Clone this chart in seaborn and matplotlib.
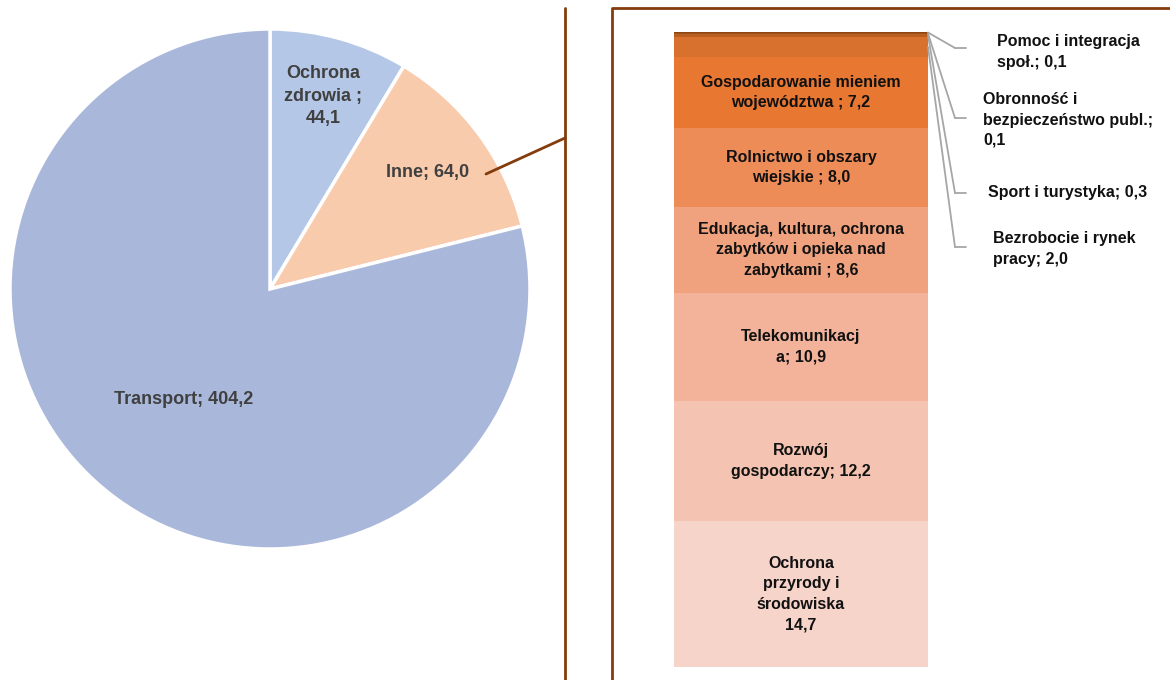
import numpy as np
import matplotlib
matplotlib.use("Agg")
import matplotlib.pyplot as plt
import seaborn as sns
from matplotlib.lines import Line2D

sns.set_theme(style="white")
plt.rcParams['font.family'] = ['Liberation Sans', 'DejaVu Sans']

# pie data (clockwise from the top)
pie_labels = ["Ochrona\nzdrowia ;\n44,1", "Inne; 64,0", "Transport; 404,2"]
pie_values = [44.1, 64.0, 404.2]
pie_colors = ["#B4C7E7", "#F8CBAD", "#A9B7DA"]
pie_label_r = [0.77, 0.755, 0.54]

# breakdown of "Inne", from bottom to top
bar_labels = ["Ochrona\nprzyrody i\nśrodowiska\n14,7",
              "Rozwój\ngospodarczy; 12,2",
              "Telekomunikacj\na; 10,9",
              "Edukacja, kultura, ochrona\nzabytków i opieka nad\nzabytkami ; 8,6",
              "Rolnictwo i obszary\nwiejskie ; 8,0",
              "Gospodarowanie mieniem\nwojewództwa ; 7,2",
              "Bezrobocie i rynek\npracy; 2,0",
              "Sport i turystyka; 0,3",
              "Obronność i\nbezpieczeństwo publ.;\n0,1",
              "Pomoc i integracja\nspoł.; 0,1"]
bar_values = [14.7, 12.2, 10.9, 8.6, 8.0, 7.2, 2.0, 0.3, 0.1, 0.1]
bar_colors = ["#F6D4C9", "#F4C3B1", "#F2B39A", "#F0A27F", "#EE8C58",
              "#E87732", "#D9712E", "#B85E20", "#A05018", "#8B4513"]
n_inside = 6

W, H = 1170, 680
fig = plt.figure(figsize=(W / 100, H / 100), dpi=100)
brown = "#843C0C"

def fx(px):
    return px / W

def fy(py):
    return 1 - py / H

# pie
ax_pie = fig.add_axes([fx(10), fy(549), 520 / W, 520 / H])
wedges, _ = ax_pie.pie(pie_values, colors=pie_colors, startangle=90, counterclock=False,
                       wedgeprops=dict(edgecolor="white", linewidth=2.5))
ax_pie.set_xlim(-1, 1)
ax_pie.set_ylim(-1, 1)
ax_pie.set_aspect("equal")
ax_pie.axis("off")
for w, lab, r in zip(wedges, pie_labels, pie_label_r):
    ang = np.deg2rad((w.theta1 + w.theta2) / 2)
    ax_pie.text(r * np.cos(ang), r * np.sin(ang), lab, ha="center", va="center",
                fontsize=13, fontweight="bold", color="#404040", linespacing=1.4)

# stacked bar
ax_bar = fig.add_axes([fx(674), fy(667), 254 / W, 635 / H])
bottom = 0
mids = []
for v, c in zip(bar_values, bar_colors):
    ax_bar.bar(0, v, bottom=bottom, width=1, color=c, edgecolor="none")
    mids.append(bottom + v / 2)
    bottom += v
ax_bar.set_xlim(-0.5, 0.5)
ax_bar.set_ylim(0, sum(bar_values))
ax_bar.axis("off")
for lab, m in zip(bar_labels[:n_inside], mids[:n_inside]):
    ax_bar.text(0, m, lab, ha="center", va="center", fontsize=11.5,
                fontweight="bold", color="#111111", linespacing=1.45)

# outside labels with leader lines (elbow x, elbow y, text x, text y in pixels)
outside = [(955, 247, 993, 249, "left"),
           (955, 193, 988, 193, "left"),
           (955, 118, 983, 120, "left"),
           (955, 48, 997, 52, "left")]
for (ex, ey, tx, ty, ha), lab, m in zip(outside, bar_labels[n_inside:], mids[n_inside:]):
    ax_bar.annotate("", xy=(0.5, m), xycoords="data",
                    xytext=(fx(ex), fy(ey)), textcoords="figure fraction",
                    arrowprops=dict(arrowstyle="-", color="#A6A6A6", lw=1.3,
                                    shrinkA=0, shrinkB=0))
    fig.add_artist(Line2D([fx(ex), fx(ex + 11)], [fy(ey), fy(ey)],
                          color="#A6A6A6", lw=1.3))
    fig.text(fx(tx), fy(ty), lab, ha=ha, va="center", fontsize=11.5,
             fontweight="bold", color="#111111", linespacing=1.45)

# brown frame lines and connector
fig.add_artist(Line2D([fx(565), fx(565)], [fy(8), fy(680)], color=brown, lw=2))
fig.add_artist(Line2D([fx(612), fx(612), fx(1170)], [fy(680), fy(8), fy(8)], color=brown, lw=2))
fig.add_artist(Line2D([fx(486), fx(565)], [fy(174), fy(138)], color=brown, lw=2))

fig.savefig("out.png", dpi=100)
